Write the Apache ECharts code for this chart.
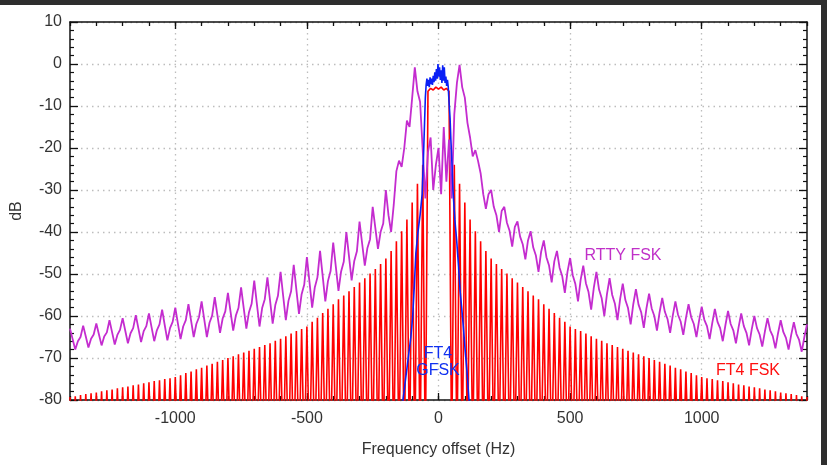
<!DOCTYPE html>
<html><head><meta charset="utf-8">
<script src="https://cdn.jsdelivr.net/npm/echarts@6/dist/echarts.min.js"></script>
<style>html,body{margin:0;padding:0;background:#fff}#c{width:827px;height:465px}</style>
</head><body><div id="c"></div>
<script>
// Frequency grid (Hz) shared by the FT4 FSK and RTTY FSK spectra
const freqHz = [
-1400,-1390,-1380,-1370,-1360,-1350,-1340,-1330,-1320,-1310,-1300,-1290,-1280,-1270,-1260,-1250,-1240,-1230,-1220,-1210,
-1200,-1190,-1180,-1170,-1160,-1150,-1140,-1130,-1120,-1110,-1100,-1090,-1080,-1070,-1060,-1050,-1040,-1030,-1020,-1010,
-1000,-990,-980,-970,-960,-950,-940,-930,-920,-910,-900,-890,-880,-870,-860,-850,-840,-830,-820,-810,
-800,-790,-780,-770,-760,-750,-740,-730,-720,-710,-700,-690,-680,-670,-660,-650,-640,-630,-620,-610,
-600,-590,-580,-570,-560,-550,-540,-530,-520,-510,-500,-490,-480,-470,-460,-450,-440,-430,-420,-410,
-400,-390,-380,-370,-360,-350,-340,-330,-320,-310,-300,-290,-280,-270,-260,-250,-240,-230,-220,-210,
-200,-190,-180,-170,-160,-150,-140,-130,-120,-110,-100,-90,-80,-70,-60,-50,-40,-30,-20,-10,
0,10,20,30,40,50,60,70,80,90,100,110,120,130,140,150,160,170,180,190,
200,210,220,230,240,250,260,270,280,290,300,310,320,330,340,350,360,370,380,390,
400,410,420,430,440,450,460,470,480,490,500,510,520,530,540,550,560,570,580,590,
600,610,620,630,640,650,660,670,680,690,700,710,720,730,740,750,760,770,780,790,
800,810,820,830,840,850,860,870,880,890,900,910,920,930,940,950,960,970,980,990,
1000,1010,1020,1030,1040,1050,1060,1070,1080,1090,1100,1110,1120,1130,1140,1150,1160,1170,1180,1190,
1200,1210,1220,1230,1240,1250,1260,1270,1280,1290,1300,1310,1320,1330,1340,1350,1360,1370,1380,1390,
1400
];

// FT4 FSK spectrum (dB); nulls lie below the -80 dB floor
const ft4FskDb = [
-79.3,-95,-79.1,-95,-78.8,-95,-78.6,-95,-78.4,-95,-78.2,-95,-77.9,-95,-77.7,-95,-77.5,-95,-77.2,-95,
-77,-95,-76.8,-95,-76.5,-95,-76.3,-95,-76,-95,-75.8,-95,-75.5,-95,-75.3,-95,-75,-95,-74.8,-95,
-74.5,-95,-74.1,-95,-73.6,-95,-73.2,-95,-72.7,-95,-72.3,-95,-71.8,-95,-71.4,-95,-70.9,-95,-70.5,-95,
-70,-95,-69.6,-95,-69.1,-95,-68.7,-95,-68.3,-95,-67.8,-95,-67.4,-95,-66.9,-95,-66.5,-95,-65.9,-95,
-65.4,-95,-64.8,-95,-64.2,-95,-63.6,-95,-63.1,-95,-62.5,-95,-61.4,-95,-60.4,-95,-59.3,-95,-58.3,-95,
-57.2,-95,-56,-95,-55.1,-95,-54.1,-95,-53.1,-95,-52,-95,-51,-95,-49.9,-95,-48.8,-95,-47.6,-95,
-46.3,-95,-44.5,-95,-42.2,-95,-39.8,-95,-37,-95,-33,-95,-28.5,-95,-24,-95,-6.5,-5.8,-6.2,-5.5,
-6,-5.5,-6.2,-5.8,-6.5,-95,-24,-95,-28.5,-95,-33,-95,-37,-95,-39.8,-95,-42.2,-95,-44.5,-95,
-46.3,-95,-47.6,-95,-48.8,-95,-49.9,-95,-51,-95,-52,-95,-53.1,-95,-54.1,-95,-55.1,-95,-56,-95,
-57.2,-95,-58.3,-95,-59.3,-95,-60.4,-95,-61.4,-95,-62.5,-95,-63.1,-95,-63.6,-95,-64.2,-95,-64.8,-95,
-65.4,-95,-65.9,-95,-66.5,-95,-66.9,-95,-67.4,-95,-67.8,-95,-68.3,-95,-68.7,-95,-69.1,-95,-69.6,-95,
-70,-95,-70.5,-95,-70.9,-95,-71.4,-95,-71.8,-95,-72.3,-95,-72.7,-95,-73.2,-95,-73.6,-95,-74.1,-95,
-74.5,-95,-74.8,-95,-75,-95,-75.3,-95,-75.5,-95,-75.8,-95,-76,-95,-76.3,-95,-76.5,-95,-76.8,-95,
-77,-95,-77.2,-95,-77.5,-95,-77.7,-95,-77.9,-95,-78.2,-95,-78.4,-95,-78.6,-95,-78.8,-95,-79.1,-95,
-79.3
];

// RTTY FSK spectrum (dB)
const rttyFskDb = [
-63,-65.5,-68,-66,-65,-62.3,-64.9,-67.5,-65.4,-64.4,-61.8,-64.4,-67,-64.9,-63.9,-61,-63.9,-66.8,-64.5,-63.3,
-60.5,-63.5,-66.5,-64.1,-62.9,-59.8,-63,-66.2,-63.6,-62.4,-59.4,-62.7,-66,-63.4,-62,-58.5,-62.2,-65.8,-62.9,-61.4,
-58,-61.8,-65.5,-62.5,-61,-57.2,-61.1,-65,-61.9,-60.3,-56.5,-60.8,-65,-61.6,-59.9,-55.5,-59.8,-64,-60.6,-58.9,
-54.5,-59,-63.5,-59.9,-58.1,-53.2,-58.1,-63,-59.1,-57.1,-51.6,-57.1,-62.5,-58.1,-56,-50.8,-56.3,-61.8,-57.4,-55.2,
-49.5,-55.3,-61,-56.4,-54.1,-47.8,-53.7,-59.5,-54.8,-52.5,-46,-52,-58,-53.2,-50.8,-44.5,-50.5,-56.5,-51.7,-49.3,
-42.5,-48.3,-54,-49.4,-47.1,-40,-45.8,-51.5,-46.9,-44.6,-37.5,-42.8,-48,-43.8,-41.7,-34,-39,-44,-40,-38,
-30,-36,-40,-33.5,-25.5,-23,-24.5,-20,-13.5,-15,-8,-0.8,-6.5,-9,-20.5,-32,-21,-17.5,-30,-24,
-20,-31,-15,-28,-18,-32,-12,-4.5,-0.2,-5.5,-8,-14,-17.5,-22,-20.5,-23,-26,-31,-34.5,-31,
-30,-34,-36,-40,-35,-34,-37.8,-39.7,-43.5,-38.8,-37.5,-41.1,-42.9,-46.5,-42,-39.8,-43.7,-45.6,-49.5,-44.7,
-42,-46,-48,-52,-47,-44.5,-48.5,-50.5,-54.5,-49.5,-46.2,-50.3,-52.4,-56.5,-51.4,-48,-52.2,-54.3,-58.5,-53.3,
-49.5,-53.7,-55.8,-60,-54.8,-51,-55,-57,-61,-56,-52.3,-56.2,-58.1,-62,-57.2,-53.6,-57.3,-59.1,-62.8,-58.2,
-54.7,-58.2,-60,-63.5,-59.1,-55.7,-59,-60.7,-64,-59.9,-56.5,-59.7,-61.3,-64.5,-60.5,-57.2,-60.3,-61.9,-65,-61.1,
-57.8,-60.9,-62.4,-65.5,-61.7,-58.3,-61.4,-62.9,-66,-62.2,-58.8,-61.9,-63.4,-66.5,-62.7,-59.4,-62.4,-64,-67,-63.2,
-60,-62.9,-64.4,-67.3,-63.7,-60.5,-63.4,-64.8,-67.7,-64.1,-61,-63.8,-65.2,-68,-64.5,-61.5,-64.3,-65.7,-68.5,-65,
-62
];

// FT4 GFSK spectrum
const gfskFreqHz = [-140,-135,-125,-115,-105,-98,-92,-86,-78,-70,-62,-57,-53,-50,-47,-44,-41,-38,-35,-32,-29,-26,-23,-20,-17,-14,-11,-8,-5,-2,1,4,7,10,13,16,19,22,25,28,31,34,37,40,44,47,50,55,62,69,76,82,88,95,101,108,116,120];
const gfskDb = [-84,-80,-75,-70,-65,-60,-53,-45,-40,-36,-31,-22,-14,-8,-5,-3.5,-5.2,-3.8,-5.5,-3.2,-4.8,-3.5,-5,-2.8,-4.3,-2,-4,-1.2,-3.5,0,-3,-0.8,-3.8,-1.5,-4.5,-0.3,-4,-0.8,-4.5,-3,-5.2,-3.8,-5.5,-9,-13,-18,-22,-30,-37,-42,-48,-54,-58,-63,-68,-73,-80,-84];

const xMajorTicks = [-1000, -500, 0, 500, 1000];
const xRange = [-1400, 1400];
const yRange = [-80, 10];
const xTitle = 'Frequency offset (Hz)';
const yTitle = 'dB';
const rttyLabel = 'RTTY FSK';
const fskLabel = 'FT4 FSK';
const gfskLabel = 'FT4\nGFSK';

const FONT = '"Liberation Sans", Arial, sans-serif';
const txt = {fontFamily: FONT, fontSize: 16, color: '#333'};
const axisColor = '#111';
const dotted = {type: [1.5, 4], color: '#bdbdbd', width: 1.3};

function xAx(pos, minor) {
  const a = {
    type: 'value', position: pos, min: xRange[0], max: xRange[1], gridIndex: 0,
    axisLine: {show: !minor, onZero: false, lineStyle: {color: axisColor, width: 1.5}},
    axisTick: {show: true, inside: true, length: minor ? 4 : 7, lineStyle: {color: axisColor, width: 1.3}},
    axisLabel: {show: false},
    splitLine: {show: false}
  };
  if (minor) { a.interval = 100; }
  else { a.axisTick.customValues = xMajorTicks; a.axisLabel = {show: false, customValues: xMajorTicks}; }
  return a;
}
const xMain = xAx('bottom', false);
xMain.axisLabel = Object.assign({show: true, customValues: xMajorTicks, margin: 11, formatter: v => String(v)}, txt);
xMain.splitLine = {show: true, lineStyle: dotted};
xMain.name = xTitle; xMain.nameLocation = 'middle'; xMain.nameGap = 42;
xMain.nameTextStyle = Object.assign({}, txt);

function yAx(pos, main) {
  return {
    type: 'value', position: pos, min: yRange[0], max: yRange[1], interval: 10,
    axisLine: {show: true, onZero: false, lineStyle: {color: axisColor, width: 1.5}},
    axisTick: {show: true, inside: true, length: 8, lineStyle: {color: axisColor, width: 1.3}},
    minorTick: {show: true, splitNumber: 5, length: 4, lineStyle: {color: axisColor, width: 1.2}},
    axisLabel: main ? Object.assign({show: true, margin: 8}, txt) : {show: false},
    splitLine: main ? {show: true, lineStyle: dotted} : {show: false},
    name: main ? yTitle : '', nameLocation: 'middle', nameGap: 45, nameRotate: 90,
    nameTextStyle: Object.assign({}, txt)
  };
}

const zip = (xs, ys) => xs.map((x, i) => [x, ys[i]]);
const lineSeries = (name, data, color, width, z) => ({
  name, type: 'line', data, xAxisIndex: 0, yAxisIndex: 0, symbol: 'none', showSymbol: false,
  clip: true, z, lineStyle: {color, width}, emphasis: {disabled: true}, animation: false
});

const chart = echarts.init(document.getElementById('c'));
chart.setOption({
  backgroundColor: '#ffffff',
  animation: false,
  grid: {left: 70, right: 20, top: 22, bottom: 65, containLabel: false},
  xAxis: [xMain, xAx('top', false), xAx('bottom', true), xAx('top', true)],
  yAxis: [yAx('left', true), yAx('right', false)],
  series: [
    lineSeries('FT4 FSK', zip(freqHz, ft4FskDb), '#ff0000', 1.6, 3),
    lineSeries('RTTY FSK', zip(freqHz, rttyFskDb), '#c42ccf', 1.8, 4),
    lineSeries('FT4 GFSK', zip(gfskFreqHz, gfskDb), '#0a20f5', 1.6, 5)
  ],
  graphic: [
    {type: 'rect', shape: {x: 0, y: 0, width: 827, height: 5}, style: {fill: '#2e2e2e'}, z: 100},
    {type: 'rect', shape: {x: 821, y: 0, width: 6, height: 465}, style: {fill: '#2e2e2e'}, z: 100},
    {type: 'text', x: 623, y: 256, z: 100, style: {text: rttyLabel, fill: '#c030c8', font: '16px ' + FONT, textAlign: 'center', textVerticalAlign: 'middle'}},
    {type: 'text', x: 748, y: 371, z: 100, style: {text: fskLabel, fill: '#ff1010', font: '16px ' + FONT, textAlign: 'center', textVerticalAlign: 'middle'}},
    {type: 'text', x: 438, y: 362, z: 100, style: {text: gfskLabel, fill: '#1030f0', font: '16px ' + FONT, lineHeight: 17, textAlign: 'center', textVerticalAlign: 'middle'}}
  ]
});
</script>
</body></html>
